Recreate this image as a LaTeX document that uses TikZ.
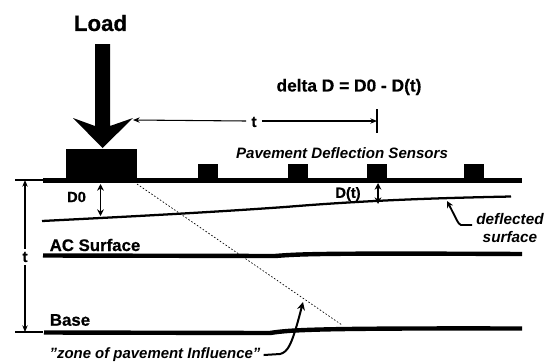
\documentclass[tikz,border=0pt]{standalone}
\usepackage{fontspec}
\setmainfont{Liberation Sans}[BoldFeatures={FakeBold=0.6}]
\usetikzlibrary{arrows.meta}
\tikzset{
 px/.style={x=0.75pt,y=-0.75pt},
 lab/.style={font=\bfseries\fontsize{#1}{#1}\selectfont,inner sep=0pt,text=black},
 itlab/.style={font=\bfseries\itshape\fontsize{#1}{#1}\selectfont,inner sep=0pt,text=black},
 heavy/.style={line width=3.3pt,black},
 dim/.style={line width=0.8pt,black},
 dimarrow/.style={line width=1.2pt,black,{Stealth[length=5pt,width=5pt]}-{Stealth[length=5pt,width=5pt]}},
 sensor/.style={fill=black,draw=none},
}
\begin{document}
\begin{tikzpicture}[px]
\useasboundingbox (0,0) rectangle (549,361);
\fill[white] (0,0) rectangle (549,361);
% text
\node[lab=16.7] (load) at (100.5,23) {Load};
\node[lab=13] (delta) at (349,87) {delta D = D0 - D(t)};
\node[itlab=11.3] (sens) at (342,153) {Pavement Deflection Sensors};
\node[lab=11] (d0) at (76.5,197) {D0};
\node[lab=11] (dt) at (348,194) {D(t)};
\node[itlab=11.5,align=center,font=\bfseries\itshape\fontsize{11.5}{13.5}\selectfont] (defl) at (510,228) {deflected\\surface};
\node[lab=12.6] (ac) at (95,245) {AC Surface};
\node[lab=12.6] (base) at (70,320) {Base};
\node[itlab=11.2] (zone) at (155,355) {"zone of pavement Influence"};
\node[lab=11.5] (t1) at (254,122) {t};
\node[lab=11.5] (t2) at (25,257) {t};
% load arrow
\fill[black] (95,44) -- (110,44) -- (110,126) -- (133,118) -- (102.5,148) -- (73,118) -- (95,126) -- cycle;
% plates and sensors
\fill[sensor] (66,149) rectangle (137,182);
\fill[sensor] (198,164) rectangle (218,182);
\fill[sensor] (288,164) rectangle (308,182);
\fill[sensor] (367,164) rectangle (387,182);
\fill[sensor] (464,164) rectangle (484,182);
% surface lines
\draw[heavy] (43,180.5) -- (522,180.5);
\draw[line width=1.7pt] (42,221) .. controls (120,217) and (200,213) .. (285,207) .. controls (370,200) and (440,198) .. (511,196.5);
\draw[heavy] (43,255.5) -- (275,256) .. controls (300,254) and (320,253) .. (522,254);
\draw[heavy] (44,332.5) -- (270,333) .. controls (290,330) and (310,328) .. (522,328.5);
% dotted influence line
\draw[line width=0.5pt,dash pattern=on 1.2pt off 1.4pt] (137,184) -- (342,325);
% t dimension, horizontal
\coordinate (tl) at (133,120);
\coordinate (tr) at (377,121);
\draw[dim,-{Stealth[length=5pt,width=4pt]}] (t1.west) ++(-5,-1) -- (tl);
\draw[dim,-{Stealth[length=5pt,width=4pt]}] (t1.east) ++(5,-1) -- (tr);
\coordinate (tt) at (377,109);
\coordinate (tb) at (377,133);
\draw[dim] (tt) -- (tb);
% t dimension, vertical
\coordinate (va) at (15,180);
\coordinate (vb) at (43,180);
\coordinate (vc) at (15,332);
\coordinate (vd) at (43,332);
\draw[dim] (va) -- (vb);
\draw[dim] (vc) -- (vd);
\coordinate (vt) at (25,180);
\coordinate (vm) at (25,332);
\draw[dim,-{Stealth[length=5pt,width=4pt]}] (t2.north) ++(0,-3) -- (vt);
\draw[dim,-{Stealth[length=5pt,width=4pt]}] (t2.south) ++(0,3) -- (vm);
% D arrows
\coordinate (d0t) at (100.5,184);
\coordinate (d0b) at (100.5,216);
\draw[dimarrow] (d0t) -- (d0b);
\coordinate (dtt) at (378,183);
\coordinate (dtb) at (378,204);
\draw[dimarrow] (dtt) -- (dtb);
% leaders
\coordinate (a1) at (447,201);
\coordinate (a3) at (472,225);
\draw[line width=1.4pt,-{Stealth[length=5pt,width=5pt]}] (a3) -- (461,225) .. controls (458,224) and (457,220) .. (a1);
\coordinate (z1) at (303,302);
\draw[line width=1.5pt,-{Stealth[length=6pt,width=6pt]}] (zone.east) ++(3,0) -- (280,354) .. controls (288,352) and (292,345) .. (z1);
\end{tikzpicture}
\end{document}
